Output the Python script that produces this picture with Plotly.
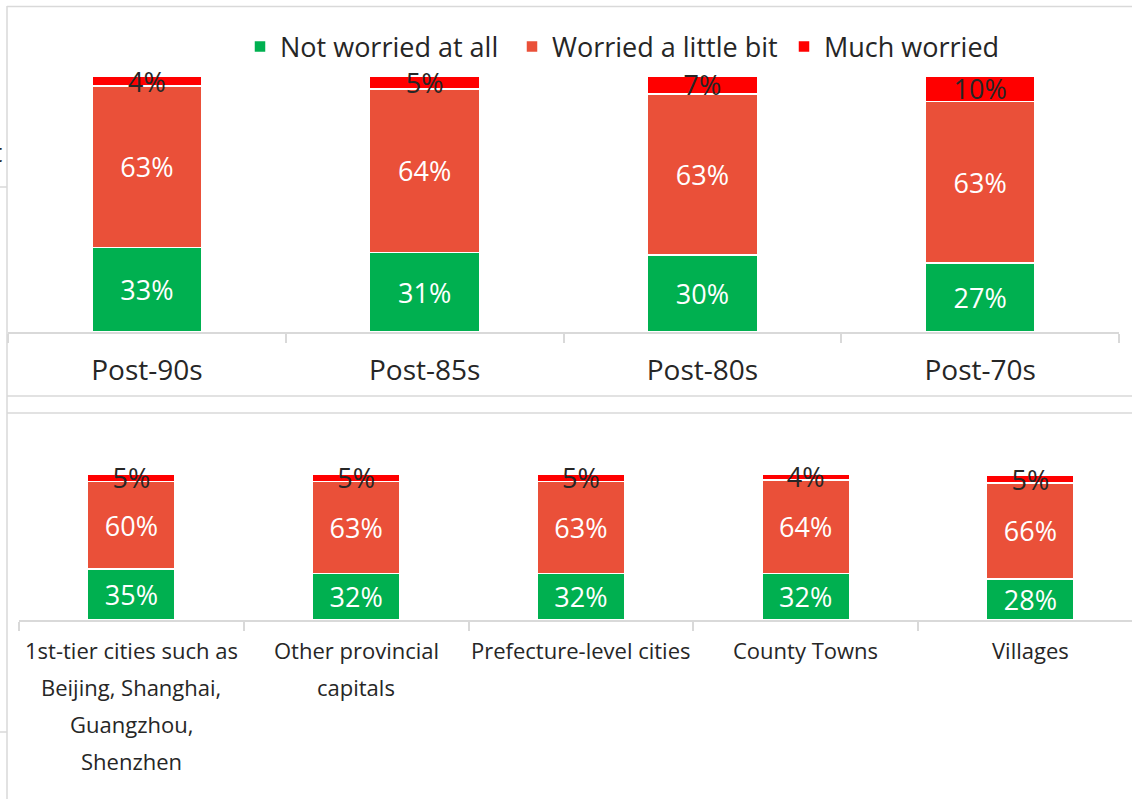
import plotly.graph_objects as go

# Survey: how worried respondents are, by generation and by city tier
generations = ["Post-90s", "Post-85s", "Post-80s", "Post-70s"]
gen_not_worried = [33, 31, 30, 27]
gen_little = [63, 64, 63, 63]
gen_much = [4, 5, 7, 10]

city_tiers = [
    "1st-tier cities such as<br>Beijing, Shanghai,<br>Guangzhou,<br>Shenzhen",
    "Other provincial<br>capitals",
    "Prefecture-level cities",
    "County Towns",
    "Villages",
]
tier_not_worried = [35, 32, 32, 32, 28]
tier_little = [60, 63, 63, 64, 66]
tier_much = [5, 5, 5, 4, 5]

series_names = ["Not worried at all", "Worried a little bit", "Much worried"]
series_colors = ["#00B050", "#EA5039", "#FF0000"]
label_colors = ["white", "white", "#262626"]

W, H = 1132, 799
FONT = "Open Sans"
TEXT = "#262626"
FRAME = "#D9D9D9"


def px_x(x):
    return x / W


def px_y(y):
    return 1 - y / H


fig = go.Figure()

top_series = [gen_not_worried, gen_little, gen_much]
bottom_series = [tier_not_worried, tier_little, tier_much]

for name, vals, color, lc in zip(series_names, top_series, series_colors, label_colors):
    fig.add_trace(go.Bar(
        x=generations, y=vals, name=name, width=0.396,
        marker=dict(color=color, line=dict(color="white", width=1.5)),
        texttemplate="%{y}%", textposition="inside", insidetextanchor="middle",
        textangle=0, constraintext="none", cliponaxis=False,
        textfont=dict(family=FONT, size=27, color=lc),
        xaxis="x", yaxis="y", hoverinfo="skip",
    ))

for name, vals, color, lc in zip(series_names, bottom_series, series_colors, label_colors):
    fig.add_trace(go.Bar(
        x=city_tiers, y=vals, name=name, width=0.39, showlegend=False,
        marker=dict(color=color, line=dict(color="white", width=1.5)),
        texttemplate="%{y}%", textposition="inside", insidetextanchor="middle",
        textangle=0, constraintext="none", cliponaxis=False,
        textfont=dict(family=FONT, size=27, color=lc),
        xaxis="x2", yaxis="y2", hoverinfo="skip",
    ))

# bottom category labels, one annotation per line for wider line spacing
annotations = []
for cat in city_tiers:
    for i, line in enumerate(cat.split("<br>")):
        annotations.append(dict(
            x=cat, xref="x2", y=px_y(650 + i * 37), yref="paper",
            text=line, showarrow=False, xanchor="center", yanchor="middle",
            font=dict(family=FONT, size=22, color=TEXT),
        ))

# clipped glyph of a neighbouring chart at the left edge
annotations.append(dict(
    x=0, xref="paper", y=px_y(152), yref="paper", text="t", showarrow=False,
    xanchor="right", xshift=4, yanchor="middle",
    font=dict(family=FONT, size=26, color=TEXT),
))

frame_lines = [
    (7, 6.5, W, 6.5),
    (7, 6, 7, H),
    (7, 396, W, 396),
    (7, 413, W, 413),
    (0, 187, 7, 187),
    (0, 732, 7, 732),
]
shapes = [
    dict(type="line", xref="paper", yref="paper",
         x0=px_x(a), y0=px_y(b), x1=px_x(c), y1=px_y(d),
         line=dict(color=FRAME, width=1.5))
    for a, b, c, d in frame_lines
]

axis_common = dict(
    type="category", showgrid=False, zeroline=False, showline=True,
    linecolor=FRAME, linewidth=1.5, ticks="outside", tickson="boundaries",
    ticklen=9, tickcolor=FRAME, tickwidth=1.5, fixedrange=True,
)

fig.update_layout(
    width=W, height=H, margin=dict(l=0, r=0, t=0, b=0),
    paper_bgcolor="white", plot_bgcolor="white",
    barmode="stack",
    font=dict(family=FONT, color=TEXT),
    xaxis=dict(domain=[px_x(8), px_x(1119)], range=[-0.5, 3.5],
               tickfont=dict(family=FONT, size=28, color=TEXT),
               ticklabelstandoff=13, **axis_common),
    yaxis=dict(domain=[px_y(332), px_y(76)], range=[0, 100], visible=False,
               fixedrange=True),
    xaxis2=dict(domain=[px_x(19), 1], range=[-0.5, -0.5 + (W - 19) / 224.75],
                showticklabels=False, anchor="y2", **axis_common),
    yaxis2=dict(domain=[px_y(620), px_y(474)], range=[0, 100], visible=False,
                anchor="x2", fixedrange=True),
    legend=dict(orientation="h", x=px_x(240), xanchor="left", y=px_y(47),
                yanchor="middle", traceorder="normal",
                entrywidth=227, entrywidthmode="pixels",
                font=dict(family=FONT, size=27, color=TEXT),
                bgcolor="rgba(0,0,0,0)"),
    annotations=annotations,
    shapes=shapes,
)

fig.write_html("out.html")
